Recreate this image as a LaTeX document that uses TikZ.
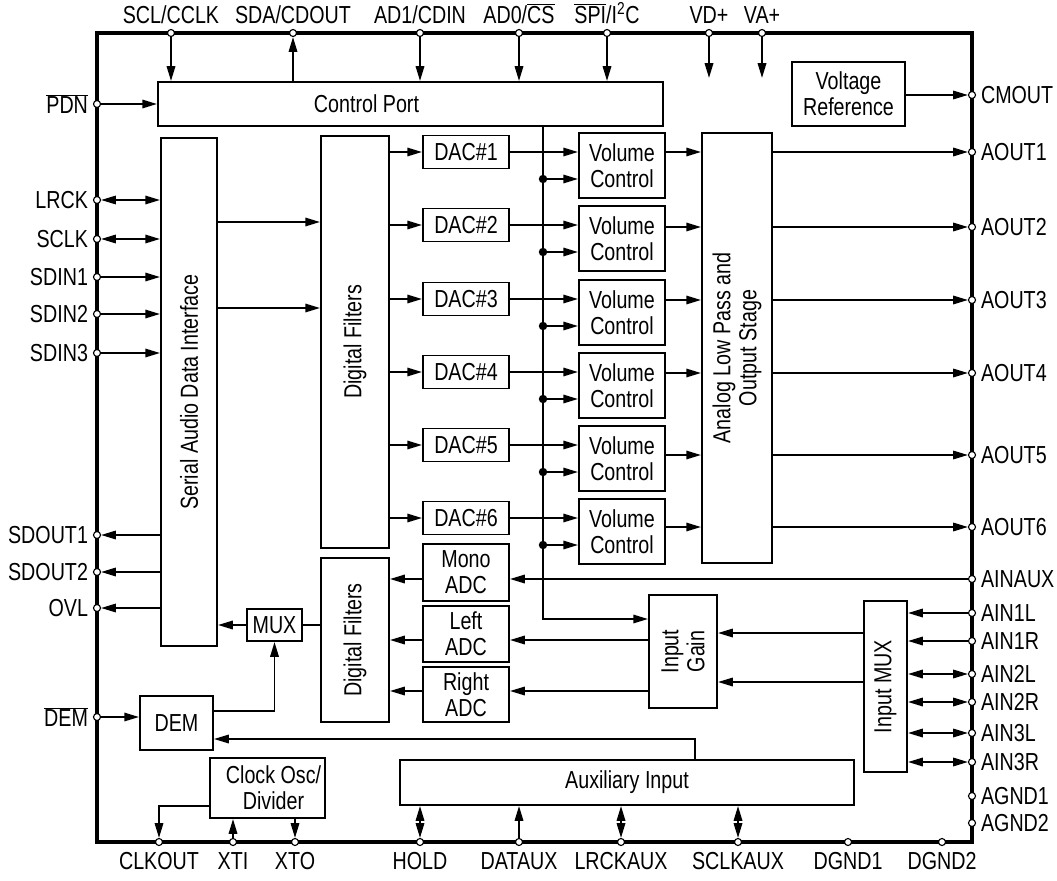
\documentclass[tikz,border=0pt]{standalone}
\usepackage{fontspec}
\setmainfont{Liberation Sans}[FakeStretch=0.8]
\usetikzlibrary{arrows.meta}
\tikzset{
  chipbox/.style={
    rectangle,
    draw,
    line width=1.4pt,
    inner sep=0pt,
    align=center
  },
  sz/.style 2 args={minimum width=#1*0.025cm, minimum height=#2*0.025cm},
  sidetext/.style={rotate=90, align=center},
  pinmark/.style={circle, draw, fill=white, line width=0.8pt, inner sep=0pt, minimum size=5pt},
  chipedge/.style={line width=2.4pt},
  sig/.style={line width=1.3pt}
}

\begin{document}
\begin{tikzpicture}[x=0.025cm, y=-0.025cm, font=\fontsize{17.5}{18.5}\selectfont,
  >={Triangle[length=10.5pt,width=6pt]}]
\useasboundingbox (0,0) rectangle (1057,880);
% chip outline
\draw[chipedge] (97,33) rectangle (972,842);
% blocks
\node[chipbox, sz={505}{44}, label={[xshift=-1.1cm]center:Control Port}] (ctrl) at (410.5,104) {};
\node[chipbox, sz={113}{64}] (vref) at (848.5,94) {Voltage\\Reference};
\node[chipbox, sz={56}{508}, label={[sidetext]center:Serial Audio Data Interface}] (sai) at (189,392) {};
\node[chipbox, sz={68}{412}, label={[sidetext]center:Digital Filters}] (df1) at (355,342) {};
\node[chipbox, sz={68}{164}, label={[sidetext]center:Digital Filters}] (df2) at (355,640) {};
\node[chipbox, sz={70}{430}, label={[sidetext]center:Analog Low Pass and\\Output Stage}] (alp) at (737,348) {};
\node[chipbox, sz={86}{57}] (mono) at (466,572.5) {Mono\\ADC};
\node[chipbox, sz={86}{56}] (ladc) at (466,634) {Left\\ADC};
\node[chipbox, sz={86}{55}] (radc) at (466,694.5) {Right\\ADC};
\node[chipbox, sz={55}{32}] (mux) at (274.5,625) {MUX};
\node[chipbox, sz={73}{54}] (dem) at (176.5,723) {DEM};
\node[chipbox, sz={115}{60}, label={[xshift=0.15cm, align=center]center:Clock Osc/\\Divider}] (clk) at (267.5,788) {};
\node[chipbox, sz={454}{45}] (aux) at (627,782.5) {Auxiliary Input};
\node[chipbox, sz={68}{113}, label={[sidetext]center:Input\\Gain}] (gain) at (683,651.5) {};
\node[chipbox, sz={43}{171}, label={[sidetext]center:Input MUX}] (imux) at (885.5,686.5) {};
% pins, top
\node[pinmark, label={above:SCL/CCLK}] (pscl) at (171,33) {};
\node[pinmark, label={above:SDA/CDOUT}] (psda) at (293,33) {};
\node[pinmark, label={above:AD1/CDIN}] (pad1) at (420,33) {};
\node[pinmark, label={above:AD0/$\overline{\mbox{CS}}$}] (pad0) at (519,33) {};
\node[pinmark, label={above:$\overline{\mbox{SPI}}$/I\textsuperscript{2}C}] (pspi) at (607,33) {};
\node[pinmark, label={above:VD+}] (pvd) at (709,33) {};
\node[pinmark, label={above:VA+}] (pva) at (762,33) {};
% pins, left
\node[pinmark, label={left:$\overline{\mbox{PDN}}$}] (ppdn) at (97,104) {};
\node[pinmark, label={left:LRCK}] (plrck) at (97,200) {};
\node[pinmark, label={left:SCLK}] (psclk) at (97,239) {};
\node[pinmark, label={left:SDIN1}] (psd1) at (97,277) {};
\node[pinmark, label={left:SDIN2}] (psd2) at (97,314) {};
\node[pinmark, label={left:SDIN3}] (psd3) at (97,353) {};
\node[pinmark, label={left:SDOUT1}] (psdo1) at (97,535) {};
\node[pinmark, label={left:SDOUT2}] (psdo2) at (97,572) {};
\node[pinmark, label={left:OVL}] (povl) at (97,608) {};
\node[pinmark, label={left:$\overline{\mbox{DEM}}$}] (pdem) at (97,717) {};
% pins, right
\node[pinmark, label={right:CMOUT}] (pcm) at (972,95) {};
\node[pinmark, label={right:AOUT1}] (pao1) at (972,152) {};
\node[pinmark, label={right:AOUT2}] (pao2) at (972,227) {};
\node[pinmark, label={right:AOUT3}] (pao3) at (972,300) {};
\node[pinmark, label={right:AOUT4}] (pao4) at (972,373) {};
\node[pinmark, label={right:AOUT5}] (pao5) at (972,455) {};
\node[pinmark, label={right:AOUT6}] (pao6) at (972,527) {};
\node[pinmark, label={right:AINAUX}] (painx) at (972,579) {};
\node[pinmark, label={right:AIN1L}] (pa1l) at (972,613) {};
\node[pinmark, label={right:AIN1R}] (pa1r) at (972,641) {};
\node[pinmark, label={right:AIN2L}] (pa2l) at (972,674) {};
\node[pinmark, label={right:AIN2R}] (pa2r) at (972,702) {};
\node[pinmark, label={right:AIN3L}] (pa3l) at (972,733) {};
\node[pinmark, label={right:AIN3R}] (pa3r) at (972,762) {};
\node[pinmark, label={right:AGND1}] (pag1) at (972,796) {};
\node[pinmark, label={right:AGND2}] (pag2) at (972,823) {};
% pins, bottom
\node[pinmark, label={[label distance=1pt]below:CLKOUT}] (pclk) at (159,842) {};
\node[pinmark, label={[label distance=1pt]below:XTI}] (pxti) at (233,842) {};
\node[pinmark, label={[label distance=1pt]below:XTO}] (pxto) at (295,842) {};
\node[pinmark, label={[label distance=1pt]below:HOLD}] (phold) at (420,842) {};
\node[pinmark, label={[label distance=1pt]below:DATAUX}] (pdat) at (519,842) {};
\node[pinmark, label={[label distance=1pt]below:LRCKAUX}] (plra) at (621,842) {};
\node[pinmark, label={[label distance=1pt]below:SCLKAUX}] (psca) at (738,842) {};
\node[pinmark, label={[label distance=1pt]below:DGND1}] (pdg1) at (848,842) {};
\node[pinmark, label={[label distance=1pt]below:DGND2}] (pdg2) at (942,842) {};
% control port
\begin{scope}[sig]
\draw[->] (pscl) -- (pscl |- ctrl.north);
\draw[->] (psda |- ctrl.north) -- (psda);
\draw[->] (pad1) -- (pad1 |- ctrl.north);
\draw[->] (pad0) -- (pad0 |- ctrl.north);
\draw[->] (pspi) -- (pspi |- ctrl.north);
\draw[->] (pvd) -- (pvd |- 0,78);
\draw[->] (pva) -- (pva |- 0,78);
\draw[->] (ppdn) -- (ctrl.west);
\draw[->] (vref.east |- pcm) -- (pcm);
% serial port
\draw[<->] (plrck) -- (plrck -| sai.west);
\draw[<->] (psclk) -- (psclk -| sai.west);
\draw[->] (psd1) -- (psd1 -| sai.west);
\draw[->] (psd2) -- (psd2 -| sai.west);
\draw[->] (psd3) -- (psd3 -| sai.west);
\draw[->] (sai.west |- psdo1) -- (psdo1);
\draw[->] (sai.west |- psdo2) -- (psdo2);
\draw[->] (sai.west |- povl) -- (povl);
\draw[->] (sai.east |- 0,222) -- (df1.west |- 0,222);
\draw[->] (sai.east |- 0,308) -- (df1.west |- 0,308);
% control bus
\coordinate (bus) at (543,619);
\draw[->] (ctrl.south -| bus) -- (bus) -- (gain.west |- bus);
% output channels
\foreach \i/\t in {1/133, 2/206, 3/280, 4/353, 5/426, 6/499} {
  \node[chipbox, sz={86}{33}] (dac\i) at (466,\t+19) {DAC\#\i};
  \node[chipbox, sz={86}{65}] (vc\i) at (622,\t+32.5) {Volume\\Control};
  \draw[->] (df1.east |- dac\i) -- (dac\i);
  \draw[->] (dac\i) -- (dac\i -| vc\i.west);
  \fill (543,\t+46) circle[radius=3pt];
  \draw[->] (543,\t+46) -- (vc\i.west |- 0,\t+46);
  \draw[->] (vc\i.east |- pao\i) -- (alp.west |- pao\i);
  \draw[->] (alp.east |- pao\i) -- (pao\i);
}
% inputs
\draw[->] (painx) -- (painx -| mono.east);
\draw[->] (mono.west |- painx) -- (df2.east |- painx);
\draw[->] (gain.west |- 0,640) -- (ladc.east |- 0,640);
\draw[->] (ladc.west |- 0,640) -- (df2.east |- 0,640);
\draw[->] (gain.west |- 0,691) -- (radc.east |- 0,691);
\draw[->] (radc.west |- 0,691) -- (df2.east |- 0,691);
\draw[->] (imux.west |- 0,633) -- (gain.east |- 0,633);
\draw[->] (imux.west |- 0,682) -- (gain.east |- 0,682);
\draw[->] (pa1l) -- (pa1l -| imux.east);
\draw[->] (pa1r) -- (pa1r -| imux.east);
\draw[<->] (imux.east |- pa2l) -- (pa2l);
\draw[<->] (imux.east |- pa2r) -- (pa2r);
\draw[<->] (imux.east |- pa3l) -- (pa3l);
\draw[<->] (imux.east |- pa3r) -- (pa3r);
% de-emphasis and mux
\draw (df2.west |- mux) -- (mux);
\draw[->] (mux) -- (mux -| sai.east);
\draw[->] (pdem) -- (pdem -| dem.west);
\draw[->] (dem.east |- 0,711) -| (mux.south);
\coordinate (auxtap) at (695,739);
\draw[->] (aux.north -| auxtap) |- (dem.east |- auxtap);
% clock and auxiliary
\draw[->] (clk.west |- 0,806) -| (pclk);
\draw[->] (pxti) -- (pxti |- clk.south);
\draw[->] (pxto |- clk.south) -- (pxto);
\draw[<->] (phold |- aux.south) -- (phold);
\draw[->] (pdat) -- (pdat |- aux.south);
\draw[<->] (plra |- aux.south) -- (plra);
\draw[<->] (psca |- aux.south) -- (psca);
\end{scope}
\end{tikzpicture}
\end{document}
